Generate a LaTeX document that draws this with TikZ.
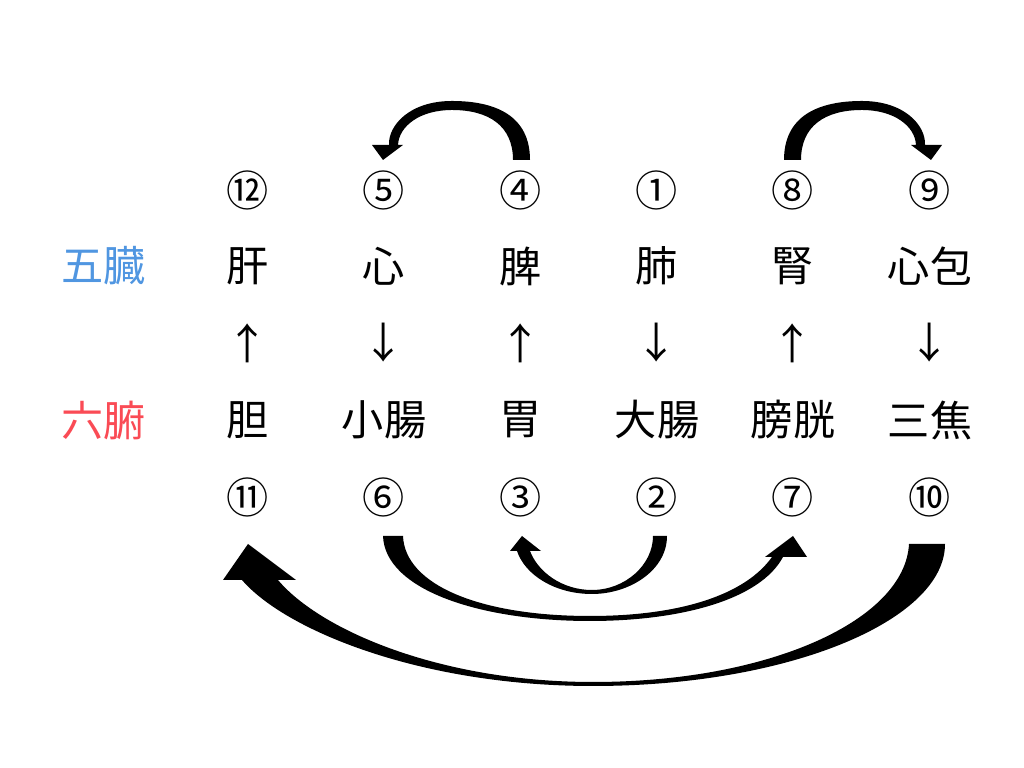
\documentclass[tikz,border=0pt]{standalone}
\usepackage{fontspec}
\setmainfont{Noto Sans CJK JP}

\definecolor{zoblue}{RGB}{80,150,225}
\definecolor{fured}{RGB}{250,75,85}

\begin{document}
\begin{tikzpicture}[
                x=0.01cm,
                y=-0.01cm,
                organ/.style={font=\fontsize{12}{14}\selectfont,inner sep=0pt},
                num/.style={font=\fontsize{12}{14}\selectfont,inner sep=0pt},
                band/.style={fill=black}] %

\useasboundingbox (0,0) rectangle (1024,768);

% rows
                    \node[organ,text=zoblue] (ZO) at (104,266) {五臓};
                    \node[organ,text=fured] (FU) at (104,420) {六腑};

                    % 1
                    \node[num] (N12) at (248,190) {⑫};
                    \node[organ] (Z1) at (248,266) {肝};
                    \node[organ] (D1) at (248,343) {↑};
                    \node[organ] (F1) at (248,420) {胆};
                    \node[num] (N11) at (248,497) {⑪};

                    % 2
                    \node[num] (N5) at (384,190) {⑤};
                    \node[organ] (Z2) at (384,266) {心};
                    \node[organ] (D2) at (384,343) {↓};
                    \node[organ] (F2) at (384,420) {小腸};
                    \node[num] (N6) at (384,497) {⑥};

                    % 3
                    \node[num] (N4) at (521,190) {④};
                    \node[organ] (Z3) at (521,266) {脾};
                    \node[organ] (D3) at (521,343) {↑};
                    \node[organ] (F3) at (521,420) {胃};
                    \node[num] (N3) at (521,497) {③};

                    % 4
                    \node[num] (N1) at (657,190) {①};
                    \node[organ] (Z4) at (657,266) {肺};
                    \node[organ] (D4) at (657,343) {↓};
                    \node[organ] (F4) at (657,420) {大腸};
                    \node[num] (N2) at (657,497) {②};

                    % 5
                    \node[num] (N8) at (793,190) {⑧};
                    \node[organ] (Z5) at (793,266) {腎};
                    \node[organ] (D5) at (793,343) {↑};
                    \node[organ] (F5) at (793,420) {膀胱};
                    \node[num] (N7) at (793,497) {⑦};

                    % 6
                    \node[num] (N9) at (930,190) {⑨};
                    \node[organ] (Z6) at (930,266) {心包};
                    \node[organ] (D6) at (930,343) {↓};
                    \node[organ] (F6) at (930,420) {三焦};
                    \node[num] (N10) at (930,497) {⑩};

%%%%%%%%%%%%%%%%%%%%%%%%%%%%%%%%%%%%%%%%%%%%%%%%%%%%%%%%%%%%%%%%%%%%%%%%%%%%%%%%%%%%

                    % 4 -> 5
                    \begin{scope}[shift={(N4)}]
                    \fill[band] (9,-30) .. controls (9,-74) and (-25,-89) .. (-69,-89) .. controls (-112,-89) and (-133,-64) .. (-132,-45)
                        -- (-149,-45) -- (-138,-30) -- (-118,-45) -- (-123,-45)
                        .. controls (-122,-64) and (-101,-80) .. (-69,-80) .. controls (-32,-80) and (-8,-64) .. (-8,-30) -- cycle;
                    \end{scope}

                    % 8 -> 9
                    \begin{scope}[shift={(N8)},xscale=-1]
                    \fill[band] (9,-30) .. controls (9,-74) and (-25,-89) .. (-69,-89) .. controls (-112,-89) and (-133,-64) .. (-132,-45)
                        -- (-149,-45) -- (-138,-30) -- (-118,-45) -- (-123,-45)
                        .. controls (-122,-64) and (-101,-80) .. (-69,-80) .. controls (-32,-80) and (-8,-64) .. (-8,-30) -- cycle;
                    \end{scope}

                    % 6 -> 7
                    \begin{scope}[shift={(N6)}]
                    \fill[band] (-1,39) .. controls (1,93) and (96,124) .. (206,124) .. controls (296,124) and (376,103) .. (399,60)
                        -- (423,60) -- (409,39) -- (381,60) -- (388,60)
                        .. controls (361,98) and (296,119) .. (206,119) .. controls (96,119) and (21,88) .. (19,39) -- cycle;
                    \end{scope}

                    % 2 -> 3
                    \begin{scope}[shift={(N2)}]
                    \fill[band] (10,39) .. controls (10,73) and (-27,97) .. (-65,97) .. controls (-102,97) and (-132,78) .. (-140,54)
                        -- (-147,54) -- (-135,39) -- (-116,54) -- (-127,54)
                        .. controls (-119,75) and (-95,93) .. (-65,93) .. controls (-32,93) and (-4,68) .. (-4,39) -- cycle;
                    \end{scope}

                    % 10 -> 11
                    \begin{scope}[shift={(N10)}]
                    \fill[band] (15,47) .. controls (15,123) and (-140,189) .. (-337,189) .. controls (-510,189) and (-645,133) .. (-688,83)
                        -- (-707,83) -- (-682,47) -- (-634,83) -- (-652,83)
                        .. controls (-610,133) and (-490,185) .. (-337,185) .. controls (-160,185) and (-25,123) .. (-21,47) -- cycle;
                    \end{scope}

\end{tikzpicture}
\end{document}
